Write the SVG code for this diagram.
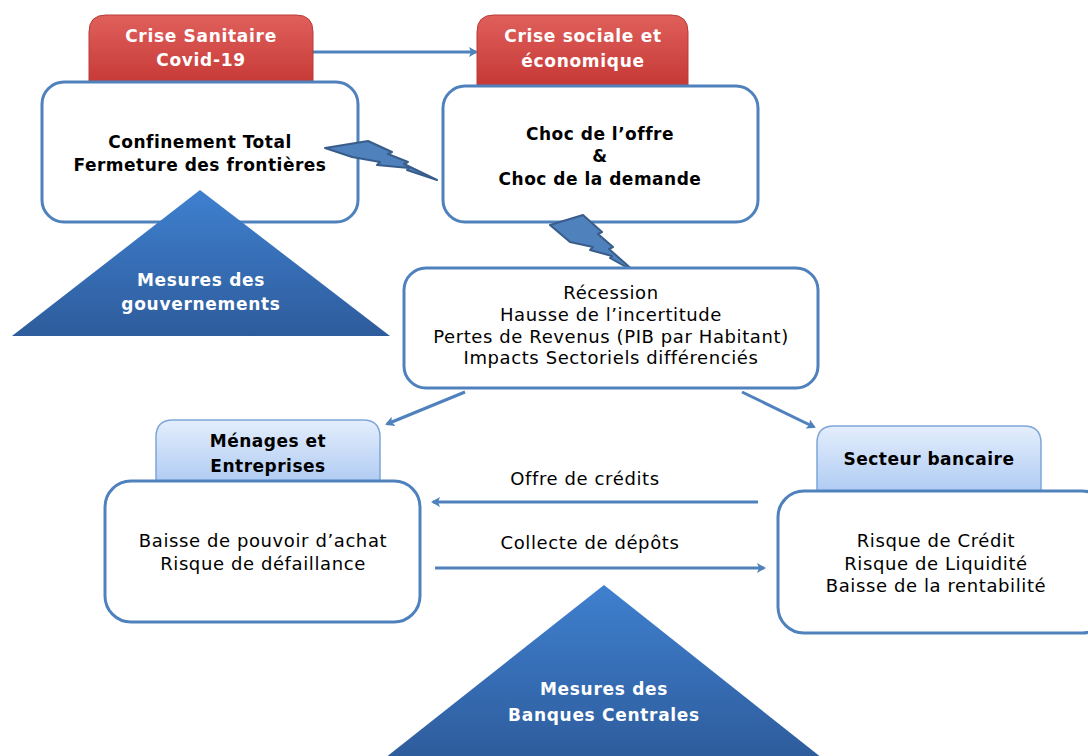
<svg xmlns="http://www.w3.org/2000/svg" width="1088" height="756" viewBox="0 0 1088 756">
<defs>
<linearGradient id="gRed" x1="0" y1="0" x2="0" y2="1"><stop offset="0" stop-color="#e0605c"/><stop offset="1" stop-color="#c0302d"/></linearGradient>
<linearGradient id="gHead" x1="0" y1="0" x2="0" y2="1"><stop offset="0" stop-color="#e4eefc"/><stop offset="1" stop-color="#a9c7f2"/></linearGradient>
<linearGradient id="gTri" x1="0" y1="0" x2="0" y2="1"><stop offset="0" stop-color="#3f80cf"/><stop offset="1" stop-color="#2e5c9c"/></linearGradient>
<marker id="arr" markerWidth="10" markerHeight="10" refX="7" refY="5" orient="auto" markerUnits="userSpaceOnUse" viewBox="0 0 10 10"><path d="M0,0 L9,5 L0,10 L2,5 Z" fill="#4f81bd"/></marker>
<style>
.red{fill:url(#gRed);stroke:#b83a37;stroke-width:1}
.head{fill:url(#gHead);stroke:#7ea6d9;stroke-width:1.5}
.box{fill:#fff;stroke:#4f81bd;stroke-width:3}
.tri{fill:url(#gTri)}
.bolt{fill:#4f81bd;stroke:#385d8a;stroke-width:2;stroke-linejoin:round}
.conn{stroke:#4f81bd;stroke-width:3;fill:none;marker-end:url(#arr)}
text{font-family:"DejaVu Sans","Liberation Sans",sans-serif;text-anchor:middle}
.wt{fill:#fff;font-weight:bold;font-size:17px;letter-spacing:0.7px}
.bt{fill:#000;font-weight:bold;font-size:17px;letter-spacing:0.5px}
.nt{fill:#000;font-size:18px;letter-spacing:0.6px}
</style>
</defs>
<g id="connectors">
<line class="conn" x1="313" y1="52" x2="476" y2="52"/>
<line class="conn" x1="465" y1="392" x2="387" y2="424"/>
<line class="conn" x1="742" y1="392" x2="814" y2="427"/>
<line class="conn" x1="758" y1="502" x2="433" y2="502"/>
<line class="conn" x1="435" y1="568" x2="764" y2="568"/>
</g>
<g id="crise-sanitaire">
<path class="red" d="M89,100 V32 Q89,15 106,15 H296 Q313,15 313,32 V100 Z"/>
<text class="wt" x="201" y="42">Crise Sanitaire</text>
<text class="wt" x="201" y="66">Covid-19</text>
</g>
<g id="crise-sociale">
<path class="red" d="M477,100 V32 Q477,15 494,15 H671 Q688,15 688,32 V100 Z"/>
<text class="wt" x="583" y="42">Crise sociale et</text>
<text class="wt" x="583" y="67">économique</text>
</g>
<g id="confinement">
<rect class="box" x="42" y="82" width="316" height="140" rx="22"/>
<text class="bt" x="200" y="148">Confinement Total</text>
<text class="bt" x="200" y="171">Fermeture des frontières</text>
</g>
<g id="choc">
<rect class="box" x="443" y="86" width="315" height="136" rx="22"/>
<text class="bt" x="600" y="140">Choc de l’offre</text>
<text class="bt" x="600" y="162">&amp;</text>
<text class="bt" x="600" y="185">Choc de la demande</text>
</g>
<g id="bolt1"><polygon class="bolt" points="325,148 368,141 392,152 388,154 408,162 404,164 437,180 407,170 409,168 377,165 380,162 352,157"/></g>
<g id="bolt2"><polygon class="bolt" points="550,225 583,215 602,232 598,234 613,247 609,249 635,272 610,258 612,256 590,250 593,247 570,242"/></g>
<g id="mesures-gouv">
<polygon class="tri" points="200,190 390,336 12,336"/>
<text class="wt" x="201" y="286">Mesures des</text>
<text class="wt" x="201" y="310">gouvernements</text>
</g>
<g id="recession">
<rect class="box" x="404" y="268" width="414" height="120" rx="22"/>
<text class="nt" x="611" y="299">Récession</text>
<text class="nt" x="611" y="321">Hausse de l’incertitude</text>
<text class="nt" x="611" y="343">Pertes de Revenus (PIB par Habitant)</text>
<text class="nt" x="611" y="364">Impacts Sectoriels différenciés</text>
</g>
<g id="menages">
<path class="head" d="M156,490 V437 Q156,420 173,420 H363 Q380,420 380,437 V490 Z"/>
<text class="bt" x="268" y="447">Ménages et</text>
<text class="bt" x="268" y="472">Entreprises</text>
<rect class="box" x="105" y="481" width="315" height="141" rx="26"/>
<text class="nt" x="263" y="547">Baisse de pouvoir d’achat</text>
<text class="nt" x="263" y="570">Risque de défaillance</text>
</g>
<g id="secteur">
<path class="head" d="M817,500 V443 Q817,426 834,426 H1024 Q1041,426 1041,443 V500 Z"/>
<text class="bt" x="929" y="465">Secteur bancaire</text>
<rect class="box" x="778" y="491" width="330" height="142" rx="26"/>
<text class="nt" x="936" y="547">Risque de Crédit</text>
<text class="nt" x="936" y="570">Risque de Liquidité</text>
<text class="nt" x="936" y="592">Baisse de la rentabilité</text>
</g>
<g id="labels">
<text class="nt" x="585" y="485">Offre de crédits</text>
<text class="nt" x="590" y="549">Collecte de dépôts</text>
</g>
<g id="mesures-bc">
<polygon class="tri" points="604,585 822,758 385,758"/>
<text class="wt" x="604" y="695">Mesures des</text>
<text class="wt" x="604" y="721">Banques Centrales</text>
</g>
</svg>
